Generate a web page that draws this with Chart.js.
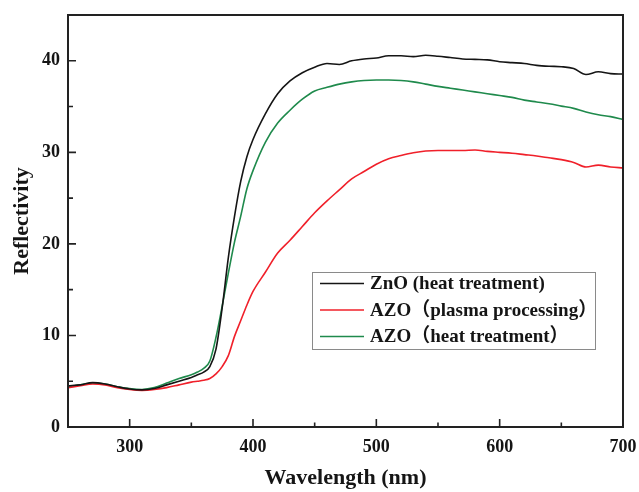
<!DOCTYPE html>
<html>
<head>
<meta charset="utf-8">
<title>Reflectivity spectra</title>
<script src="https://cdn.jsdelivr.net/npm/chart.js@4.4.1/dist/chart.umd.min.js"></script>
<style>
  html, body { margin: 0; padding: 0; background: #ffffff; }
  #wrap { width: 639px; height: 492px; }
</style>
</head>
<body>
<div id="wrap"><canvas id="chart" width="639" height="492"></canvas></div>
<script>
// Wavelength samples (nm)
const wavelengths = [
  250, 260, 270, 280, 290, 300, 310, 320, 330, 340, 350, 355, 360, 365, 370, 375,
  380, 385, 390, 395, 400, 410, 420, 430, 440, 450, 460, 470, 480, 490, 500, 510,
  520, 530, 540, 550, 560, 570, 580, 590, 600, 610, 620, 630, 640, 650, 660, 670,
  680, 690, 700
];

// Reflectivity of ZnO after heat treatment
const znoHeat = [
  4.5, 4.6, 4.85, 4.7, 4.4, 4.15, 4.05, 4.2, 4.6, 5.0, 5.4, 5.7, 6.0, 6.6, 8.5, 13.0,
  18.5, 23.0, 26.8, 29.5, 31.4, 34.2, 36.4, 37.8, 38.7, 39.3, 39.7, 39.6, 40.0, 40.2, 40.3, 40.55,
  40.55, 40.45, 40.6, 40.5, 40.35, 40.2, 40.15, 40.1, 39.9, 39.8, 39.7, 39.5, 39.4, 39.35, 39.15, 38.5,
  38.8, 38.6, 38.55
];

// Reflectivity of AZO after plasma processing
const azoPlasma = [
  4.3, 4.5, 4.7, 4.6, 4.3, 4.1, 4.0, 4.1, 4.3, 4.6, 4.9, 5.0, 5.1, 5.3, 5.8, 6.6,
  7.8, 9.9, 11.6, 13.3, 14.8, 16.9, 19.0, 20.4, 21.9, 23.4, 24.7, 25.9, 27.1, 27.9, 28.7, 29.3,
  29.65, 29.95, 30.15, 30.2, 30.2, 30.2, 30.25, 30.1, 30.0, 29.9, 29.75, 29.6, 29.4, 29.2, 28.9, 28.4,
  28.6, 28.4, 28.3
];

// Reflectivity of AZO after heat treatment
const azoHeat = [
  4.4, 4.6, 4.8, 4.7, 4.4, 4.2, 4.1, 4.3, 4.8, 5.3, 5.7, 6.0, 6.4, 7.2, 9.8, 13.2,
  16.8, 20.2, 23.0, 26.0, 28.0, 31.1, 33.2, 34.6, 35.8, 36.7, 37.1, 37.45, 37.7, 37.85, 37.9, 37.9,
  37.85, 37.7, 37.45, 37.2, 37.0, 36.8, 36.6, 36.4, 36.2, 36.0, 35.7, 35.5, 35.3, 35.05, 34.8, 34.4,
  34.1, 33.9, 33.6
];

const seriesLabels = ['ZnO (heat treatment)', 'AZO\uFF08plasma processing\uFF09', 'AZO\uFF08heat treatment\uFF09'];
const seriesColors = ['#151515', '#f0202a', '#1f8a4c'];

const xTicks = [300, 400, 500, 600, 700];
const xMinorTicks = [350, 450, 550, 650];
const yTicks = [0, 10, 20, 30, 40];
const yMinorTicks = [5, 15, 25, 35];

const SERIF = "'Liberation Serif', 'Times New Roman', 'Noto Sans CJK SC', serif";
const INK = '#151515';

function toPoints(values) {
  return wavelengths.map((w, i) => ({ x: w, y: values[i] }));
}

// Frame, inward tick marks and the boxed legend
const framePlugin = {
  id: 'frame',
  afterDraw(chart) {
    const ctx = chart.ctx;
    const a = chart.chartArea;
    const xs = chart.scales.x;
    const ys = chart.scales.y;
    ctx.save();
    ctx.strokeStyle = '#222';
    ctx.lineWidth = 2;
    ctx.strokeRect(a.left, a.top, a.right - a.left, a.bottom - a.top);

    ctx.lineWidth = 1.6;
    ctx.beginPath();
    xTicks.forEach(v => { const px = xs.getPixelForValue(v); ctx.moveTo(px, a.bottom); ctx.lineTo(px, a.bottom - 8); });
    xMinorTicks.forEach(v => { const px = xs.getPixelForValue(v); ctx.moveTo(px, a.bottom); ctx.lineTo(px, a.bottom - 4.5); });
    yTicks.forEach(v => { const py = ys.getPixelForValue(v); ctx.moveTo(a.left, py); ctx.lineTo(a.left + 8, py); });
    yMinorTicks.forEach(v => { const py = ys.getPixelForValue(v); ctx.moveTo(a.left, py); ctx.lineTo(a.left + 5, py); });
    ctx.stroke();

    // legend box
    const bx = 312, by = 272, bw = 283, bh = 77;
    ctx.strokeStyle = '#8a8a8a';
    ctx.lineWidth = 1;
    ctx.strokeRect(bx + 0.5, by + 0.5, bw, bh);
    ctx.font = 'bold 19px ' + SERIF;
    ctx.textBaseline = 'middle';
    ctx.textAlign = 'left';
    const rows = [283.5, 310, 336.5];
    chart.data.datasets.forEach((ds, i) => {
      ctx.strokeStyle = ds.borderColor;
      ctx.lineWidth = 1.6;
      ctx.beginPath();
      ctx.moveTo(320, rows[i]);
      ctx.lineTo(364, rows[i]);
      ctx.stroke();
      ctx.fillStyle = INK;
      ctx.fillText(ds.label, 370, rows[i] + 1);
    });
    ctx.restore();
  }
};

new Chart(document.getElementById('chart'), {
  type: 'line',
  data: {
    datasets: [
      { label: seriesLabels[0], data: toPoints(znoHeat), borderColor: seriesColors[0] },
      { label: seriesLabels[1], data: toPoints(azoPlasma), borderColor: seriesColors[1] },
      { label: seriesLabels[2], data: toPoints(azoHeat), borderColor: seriesColors[2] }
    ]
  },
  options: {
    responsive: false,
    animation: false,
    layout: { padding: { top: 15, right: 16, left: 0, bottom: 0 } },
    elements: {
      point: { radius: 0 },
      line: { borderWidth: 1.6, cubicInterpolationMode: 'monotone', fill: false }
    },
    plugins: {
      legend: { display: false },
      tooltip: { enabled: false }
    },
    scales: {
      x: {
        type: 'linear',
        min: 250,
        max: 700,
        afterBuildTicks(scale) { scale.ticks = xTicks.map(v => ({ value: v })); },
        afterFit(scale) {
          scale.height = 65;
          scale.paddingLeft = 0;
          scale.paddingRight = 0;
        },
        grid: { display: false, drawTicks: false },
        border: { display: false },
        ticks: { color: INK, padding: 10, font: { family: SERIF, size: 18, weight: 'bold' } },
        title: {
          display: true,
          text: 'Wavelength (nm)',
          color: INK,
          padding: { top: 0, bottom: 0 },
          font: { family: SERIF, size: 22, weight: 'bold' }
        }
      },
      y: {
        type: 'linear',
        min: 0,
        max: 45,
        afterBuildTicks(scale) { scale.ticks = yTicks.map(v => ({ value: v })); },
        afterFit(scale) {
          scale.width = 68;
          scale.paddingTop = 0;
          scale.paddingBottom = 0;
        },
        grid: { display: false, drawTicks: false },
        border: { display: false },
        ticks: { color: INK, padding: 8, font: { family: SERIF, size: 18, weight: 'bold' } },
        title: {
          display: true,
          text: 'Reflectivity',
          color: INK,
          padding: { top: 9, bottom: 0 },
          font: { family: SERIF, size: 22, weight: 'bold' }
        }
      }
    }
  },
  plugins: [framePlugin]
});
</script>
</body>
</html>
